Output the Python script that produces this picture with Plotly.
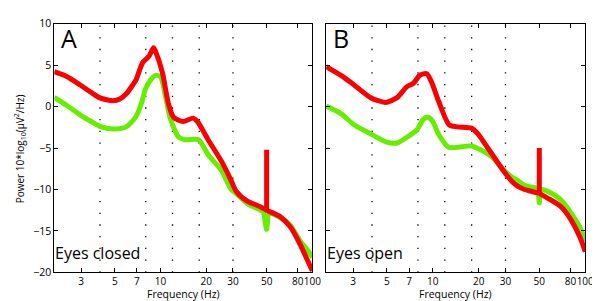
import math
import plotly.graph_objects as go

# ---------------- data ----------------
# Panel A (eyes closed)
freq_a_red = [2.0, 2.43, 2.96, 3.5, 4.0, 4.87, 5.4, 6.0, 6.57, 6.9, 7.63, 8.4, 9.0, 9.3, 10.3, 11.3, 12.2,
              14.1, 16.4, 17.5, 19.6, 20.6, 25.2, 29.0, 31.5, 37.3, 45.7, 50.0, 61.6, 71.5, 83.0, 96.4, 100.0]
power_a_red = [4.2, 3.6, 2.6, 1.7, 1.05, 0.7, 0.9, 1.6, 2.6, 3.2, 5.3, 6.05, 7.1, 6.6, 4.1, 0.3, -1.3,
               -1.8, -1.4, -1.8, -3.3, -4.0, -6.6, -8.8, -10.2, -11.4, -12.1, -12.5, -13.3, -14.5, -16.6, -19.2, -19.8]
freq_a_green = [2.0, 2.43, 2.96, 3.5, 4.0, 4.87, 5.95, 6.9, 7.5, 8.0, 8.7, 9.3, 10.0, 10.8, 11.6, 13.2, 14.5,
                17.8, 20.6, 25.2, 29.2, 30.7, 37.3, 45.7, 47.5, 50.0, 52.0, 61.6, 71.5, 83.0, 92.0, 100.0]
power_a_green = [1.1, 0.1, -1.0, -1.8, -2.4, -2.7, -2.45, -1.2, 0.4, 2.2, 3.3, 3.75, 3.6, 1.2, -1.4, -3.7, -4.0,
                 -4.0, -5.8, -7.7, -10.0, -10.3, -11.7, -12.5, -12.7, -14.8, -12.9, -13.4, -14.3, -16.2, -17.2, -18.2]
spike_a_freq = [50.0, 50.0]
spike_a_power = [-12.5, -5.2]

# Panel B (eyes open)
freq_b_red = [2.0, 2.5, 3.05, 3.92, 4.9, 5.83, 6.77, 7.47, 8.26, 9.13, 9.8, 10.9, 12.8, 14.5, 17.9, 19.8,
              22.0, 24.2, 29.5, 33.0, 36.0, 40.0, 44.0, 48.5, 50.0, 51.0, 56.3, 68.7, 79.8, 92.6, 100.0]
power_b_red = [4.8, 3.75, 2.6, 1.07, 0.5, 1.07, 2.4, 2.8, 3.8, 3.95, 3.0, 0.7, -2.2, -2.45, -2.6, -3.3,
               -4.5, -5.6, -7.9, -9.0, -9.6, -10.0, -10.2, -10.4, -10.45, -10.55, -11.0, -12.0, -13.5, -15.8, -17.5]
freq_b_green = [2.0, 2.5, 3.05, 3.92, 5.0, 5.83, 6.77, 7.9, 8.7, 9.3, 10.0, 10.9, 12.7, 14.7, 17.9, 20.8,
                24.2, 29.5, 33.0, 36.0, 40.0, 44.0, 48.5, 50.0, 51.5, 56.3, 68.7, 79.8, 92.6, 100.0]
power_b_green = [0.05, -0.85, -2.2, -3.3, -4.3, -4.4, -3.7, -2.8, -1.5, -1.3, -1.8, -3.3, -4.9, -4.9, -4.75, -5.25,
                 -6.0, -7.7, -8.5, -8.9, -9.5, -9.7, -9.9, -11.6, -10.0, -10.2, -11.2, -12.7, -14.6, -16.2]
spike_b_freq = [50.0, 50.0]
spike_b_power = [-10.45, -5.0]

band_edges = [4, 8, 12, 18, 30]
x_tickvals = [3, 5, 7, 10, 20, 30, 50, 80, 100]
x_ticktext = ["3", "5", "7", "10", "20", "30", "50", "80", "100"]
y_tickvals = [-20, -15, -10, -5, 0, 5, 10]
panel_letters = ["A", "B"]
panel_notes = ["Eyes closed", "Eyes open"]

# ---------------- figure ----------------
W, H = 600, 301
FONT = "Open Sans"
RED = "#fa0000"
GREEN = "#66ee00"


def px_x(p):
    return p / W


def px_y(p):
    return 1 - p / H


fig = go.Figure()

panels = [
    ("x", "y", freq_a_red, power_a_red, freq_a_green, power_a_green, spike_a_freq, spike_a_power),
    ("x2", "y2", freq_b_red, power_b_red, freq_b_green, power_b_green, spike_b_freq, spike_b_power),
]
for xa, ya, fr, pr, fg, pg, sf, sp in panels:
    fig.add_trace(go.Scatter(x=fg, y=pg, xaxis=xa, yaxis=ya, mode="lines",
                             line=dict(color=GREEN, width=5, shape="spline", smoothing=0.7),
                             showlegend=False, hoverinfo="skip"))
    fig.add_trace(go.Scatter(x=fr, y=pr, xaxis=xa, yaxis=ya, mode="lines",
                             line=dict(color=RED, width=5, shape="spline", smoothing=0.7),
                             showlegend=False, hoverinfo="skip"))
    fig.add_trace(go.Scatter(x=sf, y=sp, xaxis=xa, yaxis=ya, mode="lines",
                             line=dict(color=RED, width=5),
                             showlegend=False, hoverinfo="skip"))

shapes = []
for xa, ya in [("x", "y"), ("x2", "y2")]:
    for f in band_edges:
        shapes.append(dict(type="line", xref=xa, yref=ya, x0=f, x1=f, y0=-20, y1=10,
                           line=dict(color="black", width=1.3, dash="1.3px,10.4px"), layer="below"))
fig.update_layout(shapes=shapes)

dom_a = [px_x(47), px_x(309)]
dom_b = [px_x(323), px_x(586)]
dom_y = [px_y(270), px_y(9)]

xcommon = dict(type="log", range=[math.log10(2), 2], tickvals=x_tickvals, ticktext=x_ticktext,
               tickangle=0, ticks="inside", ticklen=4, tickcolor="black", showline=True,
               linecolor="black", linewidth=1, mirror="ticks", showgrid=False, zeroline=False,
               tickfont=dict(family=FONT, size=10, color="black"))
ycommon = dict(range=[-20, 10], tickvals=y_tickvals, ticks="inside", ticklen=4, tickcolor="black",
               showline=True, linecolor="black", linewidth=1, mirror="ticks", showgrid=False,
               zeroline=False, tickfont=dict(family=FONT, size=10.5, color="black"))

fig.update_layout(
    width=W, height=H,
    margin=dict(l=0, r=0, t=0, b=0),
    paper_bgcolor="white", plot_bgcolor="white",
    xaxis=dict(domain=dom_a, anchor="y", **xcommon),
    xaxis2=dict(domain=dom_b, anchor="y2", **xcommon),
    yaxis=dict(domain=dom_y, anchor="x", **ycommon),
    yaxis2=dict(domain=dom_y, anchor="x2", showticklabels=False, **ycommon),
)

ann = []
centers = [(47 + 309) / 2, (323 + 586) / 2]
for c in centers:
    ann.append(dict(text="Frequency (Hz)", xref="paper", yref="paper", x=px_x(c), y=0,
                    xanchor="center", yanchor="bottom", showarrow=False, borderpad=0,
                    font=dict(family=FONT, size=10.5, color="black")))
lefts = [47, 323]
for i, l in enumerate(lefts):
    ann.append(dict(text=panel_letters[i], xref="paper", yref="paper", x=px_x(l + 6), y=px_y(24),
                    xanchor="left", yanchor="middle", showarrow=False, borderpad=0,
                    font=dict(family=FONT, size=25, color="black")))
    ann.append(dict(text=panel_notes[i], xref="paper", yref="paper", x=px_x(l), y=px_y(250),
                    xanchor="left", yanchor="middle", showarrow=False, borderpad=0,
                    font=dict(family=FONT, size=16, color="black")))
ann.append(dict(text="Power 10*log<sub>10</sub>(μV<sup>2</sup>/Hz)", xref="paper", yref="paper",
                x=px_x(12), y=px_y(140), xanchor="center", yanchor="middle", textangle=-90,
                showarrow=False, font=dict(family=FONT, size=10, color="black")))
fig.update_layout(annotations=ann)

fig.write_html("out.html")
